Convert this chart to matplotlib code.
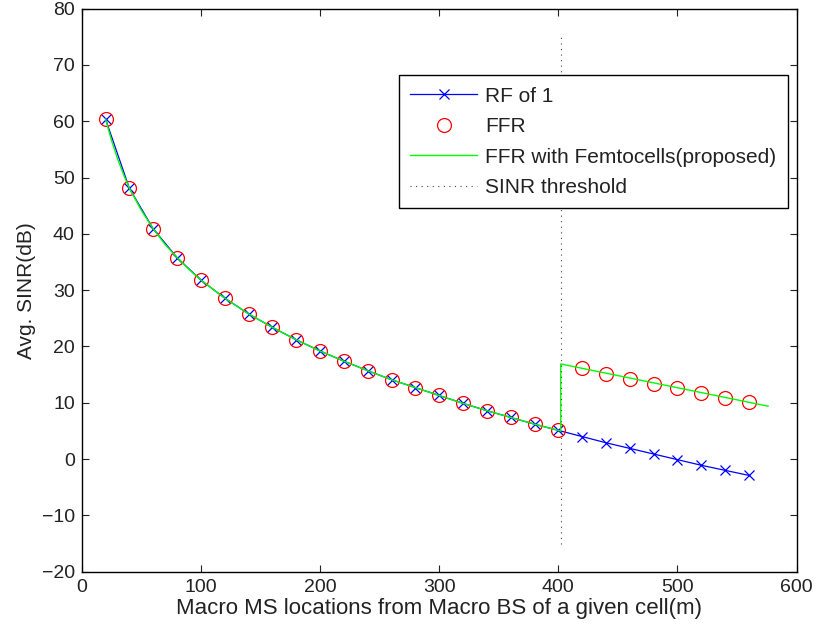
import matplotlib
matplotlib.use("Agg")
import matplotlib.pyplot as plt

plt.rcParams['font.family'] = ['Liberation Sans', 'DejaVu Sans']

# Data
x_ms = [20, 40, 60, 80, 100, 120, 140, 160, 180, 200, 220, 240, 260, 280, 300,
        320, 340, 360, 380, 400, 420, 440, 460, 480, 500, 520, 540, 560]
rf1 = [60.4, 48.1, 40.9, 35.8, 31.8, 28.6, 25.8, 23.4, 21.2, 19.2, 17.4, 15.7,
       14.1, 12.7, 11.3, 9.9, 8.6, 7.4, 6.2, 5.1, 4.0, 2.9, 1.9, 0.9, -0.1,
       -1.1, -2.0, -2.9]
ffr = [60.4, 48.1, 40.9, 35.8, 31.8, 28.6, 25.8, 23.4, 21.2, 19.2, 17.4, 15.7,
       14.1, 12.7, 11.3, 9.9, 8.6, 7.4, 6.2, 5.1, 16.1, 15.2, 14.3, 13.4, 12.6,
       11.7, 10.9, 10.1]
x_femto = [20, 25, 30, 35, 40, 50, 60, 70, 80, 90, 100, 120, 140, 160, 180, 200,
           220, 240, 260, 280, 300, 320, 340, 360, 380, 400, 402, 402, 576]
femto = [60.4, 56.6, 53.4, 50.6, 48.1, 44.2, 40.9, 38.1, 35.8, 33.7, 31.8, 28.6,
         25.8, 23.4, 21.2, 19.2, 17.4, 15.7, 14.1, 12.7, 11.3, 9.9, 8.6, 7.4,
         6.2, 5.1, 5.0, 16.9, 9.4]
thr_x = [402, 402]
thr_y = [-15, 75]
y_ticks = list(range(-20, 81, 10))
y_tick_labels = [('\u2212' + str(-v)) if v < 0 else str(v) for v in y_ticks]

fig = plt.figure(figsize=(8.18, 6.35), dpi=100)
ax = fig.add_axes([0.0999, 0.0997, 0.874, 0.8866])

ax.plot(x_ms, rf1, color=(0, 0, 1), lw=0.9, marker='x', ms=7, mew=0.9,
        label='RF of 1')
ax.plot(x_ms, ffr, linestyle='none', marker='o', ms=10, mfc='none',
        mec=(1, 0, 0), mew=0.9, label='FFR')
ax.plot(x_femto, femto, color=(0, 1, 0), lw=1.0,
        label='FFR with Femtocells(proposed)')
ax.plot(thr_x, thr_y, color='#444444', lw=0.8, linestyle=(0, (1, 4)),
        label='SINR threshold')

ax.set_xlim(0, 600)
ax.set_ylim(-20, 80)
ax.set_xticks(range(0, 601, 100))
ax.set_yticks(y_ticks)
ax.set_yticklabels(y_tick_labels)
ax.tick_params(direction='in', top=True, right=True, length=5, width=0.8,
               labelsize=14, colors='#222222', pad=5)
for s in ax.spines.values():
    s.set_linewidth(1.0)
    s.set_color('black')

ax.set_xlabel('Macro MS locations from Macro BS of a given cell(m)', fontsize=16,
              color='#222222', labelpad=2)
ax.set_ylabel('Avg. SINR(dB)', fontsize=15, color='#222222', labelpad=4)

leg = ax.legend(loc='upper right', bbox_to_anchor=(0.988, 0.882), fontsize=15,
                frameon=True, fancybox=False, framealpha=1, edgecolor='black',
                handlelength=3.2, handletextpad=0.4, labelspacing=0.55,
                borderpad=0.55, borderaxespad=0)
leg.get_frame().set_linewidth(1.0)
for t in leg.get_texts():
    t.set_color('#222222')

fig.savefig('out.png', dpi=100)
